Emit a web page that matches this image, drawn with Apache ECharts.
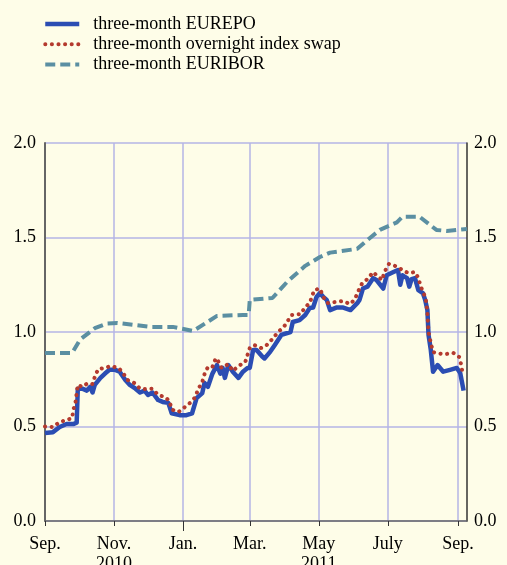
<!DOCTYPE html>
<html>
<head>
<meta charset="utf-8">
<script src="https://cdn.jsdelivr.net/npm/echarts@6/dist/echarts.min.js"></script>
<style>
html,body{margin:0;padding:0;background:#fefde8;}
#chart{width:507px;height:565px;}
</style>
</head>
<body>
<div id="chart"></div>
<script>
// axis range (first and last day shown)
const startDate = '2010-09-01';
const endDate = '2011-09-09';

// tick positions and labels
const tickDates = ['2010-09-01','2010-11-01','2011-01-01','2011-03-01','2011-05-01','2011-07-01','2011-09-01'];
const tickLabels = ['Sep.','Nov.\n2010','Jan.','Mar.','May\n2011','July','Sep.'];
const yearTick = '2011-01-01';

const seriesNames = ['three-month EUREPO','three-month overnight index swap','three-month EURIBOR'];

// three-month EUREPO
const repoDates = ['2010-09-01','2010-09-08','2010-09-14','2010-09-20','2010-09-26','2010-09-29','2010-09-30','2010-10-04','2010-10-08','2010-10-11','2010-10-13','2010-10-15','2010-10-20','2010-10-24','2010-10-28','2010-11-02','2010-11-06','2010-11-11','2010-11-15','2010-11-20','2010-11-24','2010-11-28','2010-12-01','2010-12-05','2010-12-10','2010-12-14','2010-12-19','2010-12-22','2010-12-29','2011-01-04','2011-01-09','2011-01-13','2011-01-18','2011-01-20','2011-01-23','2011-01-27','2011-01-31','2011-02-03','2011-02-05','2011-02-07','2011-02-10','2011-02-14','2011-02-19','2011-02-23','2011-02-27','2011-03-01','2011-03-04','2011-03-07','2011-03-12','2011-03-14','2011-03-19','2011-03-23','2011-03-29','2011-04-06','2011-04-08','2011-04-14','2011-04-19','2011-04-23','2011-04-26','2011-04-29','2011-05-02','2011-05-05','2011-05-08','2011-05-11','2011-05-17','2011-05-22','2011-05-29','2011-06-04','2011-06-06','2011-06-09','2011-06-13','2011-06-18','2011-06-21','2011-06-27','2011-06-30','2011-07-06','2011-07-10','2011-07-12','2011-07-14','2011-07-18','2011-07-20','2011-07-22','2011-07-25','2011-07-28','2011-08-01','2011-08-03','2011-08-05','2011-08-06','2011-08-08','2011-08-10','2011-08-14','2011-08-19','2011-08-25','2011-08-31','2011-09-03','2011-09-06'];
const repoValues = [0.466,0.47,0.497,0.513,0.513,0.52,0.70,0.70,0.69,0.71,0.68,0.72,0.757,0.78,0.80,0.80,0.79,0.746,0.72,0.70,0.68,0.69,0.667,0.68,0.64,0.63,0.625,0.57,0.56,0.56,0.57,0.65,0.677,0.73,0.71,0.78,0.825,0.78,0.81,0.757,0.825,0.79,0.757,0.79,0.81,0.81,0.905,0.905,0.87,0.86,0.895,0.93,0.985,1.0,1.053,1.063,1.09,1.127,1.13,1.185,1.206,1.185,1.17,1.116,1.13,1.13,1.116,1.153,1.17,1.23,1.24,1.285,1.275,1.23,1.30,1.317,1.328,1.25,1.30,1.285,1.24,1.28,1.285,1.222,1.206,1.17,1.116,0.985,0.905,0.79,0.825,0.79,0.80,0.81,0.783,0.69];

// three-month overnight index swap
const oisDates = ['2010-09-01','2010-09-08','2010-09-14','2010-09-20','2010-09-25','2010-09-26','2010-09-28','2010-09-29','2010-09-30','2010-10-04','2010-10-09','2010-10-13','2010-10-15','2010-10-18','2010-10-24','2010-10-29','2010-11-05','2010-11-09','2010-11-13','2010-11-19','2010-11-24','2010-11-29','2010-12-05','2010-12-10','2010-12-16','2010-12-20','2010-12-22','2010-12-28','2011-01-02','2011-01-07','2011-01-12','2011-01-14','2011-01-18','2011-01-20','2011-01-23','2011-01-27','2011-01-30','2011-02-01','2011-02-04','2011-02-10','2011-02-14','2011-02-19','2011-02-25','2011-03-01','2011-03-05','2011-03-11','2011-03-16','2011-03-21','2011-03-26','2011-03-31','2011-04-07','2011-04-15','2011-04-19','2011-04-23','2011-04-27','2011-05-02','2011-05-05','2011-05-09','2011-05-16','2011-05-22','2011-05-29','2011-06-02','2011-06-05','2011-06-08','2011-06-13','2011-06-18','2011-06-21','2011-06-26','2011-06-28','2011-07-02','2011-07-06','2011-07-14','2011-07-19','2011-07-25','2011-07-28','2011-07-30','2011-08-02','2011-08-04','2011-08-05','2011-08-06','2011-08-08','2011-08-10','2011-08-13','2011-08-18','2011-08-22','2011-08-28','2011-09-02','2011-09-04','2011-09-05'];
const oisValues = [0.50,0.497,0.524,0.534,0.545,0.587,0.63,0.677,0.72,0.71,0.73,0.725,0.762,0.804,0.81,0.82,0.81,0.783,0.746,0.73,0.70,0.698,0.70,0.667,0.656,0.635,0.59,0.577,0.60,0.624,0.656,0.693,0.735,0.777,0.815,0.815,0.862,0.846,0.81,0.83,0.794,0.82,0.841,0.915,0.931,0.915,0.931,0.963,1.0,1.026,1.09,1.095,1.132,1.153,1.222,1.23,1.185,1.153,1.159,1.164,1.148,1.175,1.217,1.254,1.28,1.317,1.30,1.275,1.317,1.36,1.354,1.328,1.312,1.317,1.286,1.243,1.2,1.159,1.10,1.0,0.942,0.894,0.889,0.884,0.884,0.889,0.868,0.825,0.783];

// three-month EURIBOR
const euriborDates = ['2010-09-01','2010-09-25','2010-10-02','2010-10-15','2010-10-26','2010-11-04','2010-12-03','2010-12-23','2011-01-10','2011-01-31','2011-02-23','2011-02-28','2011-03-01','2011-03-21','2011-04-03','2011-04-19','2011-05-02','2011-05-11','2011-06-04','2011-06-13','2011-06-24','2011-07-09','2011-07-14','2011-07-29','2011-08-13','2011-08-22','2011-09-09'];
const euriborValues = [0.889,0.889,0.96,1.02,1.045,1.048,1.027,1.027,1.005,1.085,1.09,1.09,1.17,1.18,1.265,1.35,1.397,1.42,1.44,1.487,1.54,1.58,1.61,1.61,1.54,1.535,1.545];

function fmt(d){
  const m = d.getUTCMonth()+1, day = d.getUTCDate();
  return d.getUTCFullYear()+'-'+(m<10?'0':'')+m+'-'+(day<10?'0':'')+day;
}
const categories = [];
for (let t = Date.parse(startDate+'T00:00:00Z'); t <= Date.parse(endDate+'T00:00:00Z'); t += 86400000) {
  categories.push(fmt(new Date(t)));
}
const tickSet = new Set(tickDates);
const zip = (a, b) => a.map((d, i) => [d, b[i]]);

const font = 'Liberation Serif, Times New Roman, serif';
const gridColor = '#b4b4e6';
const colors = ['#2b4db3', '#b43a2e', '#5b8fa2'];
const lineStyles = [
  {color: colors[0], width: 4.5, join: 'round'},
  {color: colors[1], width: 4, type: [0.1, 6.5], cap: 'round'},
  {color: colors[2], width: 4, type: [10, 5]}
];
const chart = echarts.init(document.getElementById('chart'), null, {renderer: 'canvas'});
chart.setOption({
  backgroundColor: '#fefde8',
  animation: false,
  textStyle: {fontFamily: font},
  legend: {
    orient: 'vertical',
    left: 43,
    top: 15,
    padding: 0,
    itemWidth: 34,
    itemHeight: 14,
    itemGap: 2.3,
    data: seriesNames.map((n, i) => ({name: n, lineStyle: lineStyles[i]})),
    itemStyle: {opacity: 0},
    textStyle: {fontFamily: font, fontSize: 18, color: '#000', padding: [0, 0, 0, 9]}
  },
  grid: {left: 45, right: 40, top: 143, bottom: 44, containLabel: false, outerBoundsMode: 'none'},
  xAxis: [
    {
      type: 'category',
      data: categories,
      boundaryGap: false,
      axisLine: {show: true, lineStyle: {color: '#666', width: 1.5}},
      axisTick: {show: true, length: 5, interval: (i, v) => tickSet.has(v), lineStyle: {color: '#333'}},
      axisLabel: {
        interval: (i, v) => tickSet.has(v),
        formatter: v => tickLabels[tickDates.indexOf(v)],
        fontFamily: font, fontSize: 18, color: '#000', margin: 13, lineHeight: 20
      },
      splitLine: {show: true, interval: (i, v) => tickSet.has(v) && i > 0, lineStyle: {color: gridColor, width: 1.5}}
    },
    {
      // longer tick marking the turn of the year
      type: 'category',
      data: categories,
      position: 'bottom',
      offset: 0,
      boundaryGap: false,
      axisLine: {show: false},
      axisTick: {show: true, length: 10, interval: (i, v) => v === yearTick, lineStyle: {color: '#333'}},
      axisLabel: {show: false},
      splitLine: {show: false}
    }
  ],
  yAxis: [
    {
      type: 'value', min: 0, max: 2, interval: 0.5, position: 'left',
      axisLine: {show: true, lineStyle: {color: '#666', width: 2}},
      axisTick: {show: false},
      axisLabel: {formatter: v => v.toFixed(1), fontFamily: font, fontSize: 18, color: '#000', margin: 9},
      splitLine: {show: true, lineStyle: {color: gridColor, width: 1.5}}
    },
    {
      type: 'value', min: 0, max: 2, interval: 0.5, position: 'right',
      axisLine: {show: true, lineStyle: {color: '#333', width: 1.5}},
      axisTick: {show: false},
      axisLabel: {formatter: v => v.toFixed(1), fontFamily: font, fontSize: 18, color: '#000', margin: 7},
      splitLine: {show: false}
    }
  ],
  series: [
    {
      name: seriesNames[0], type: 'line', data: zip(repoDates, repoValues),
      symbol: 'none', z: 3, color: colors[0], lineStyle: lineStyles[0]
    },
    {
      name: seriesNames[1], type: 'line', data: zip(oisDates, oisValues),
      symbol: 'none', z: 4, color: colors[1], lineStyle: lineStyles[1]
    },
    {
      name: seriesNames[2], type: 'line', data: zip(euriborDates, euriborValues),
      symbol: 'none', z: 2, color: colors[2], lineStyle: lineStyles[2]
    }
  ]
});
</script>
</body>
</html>
